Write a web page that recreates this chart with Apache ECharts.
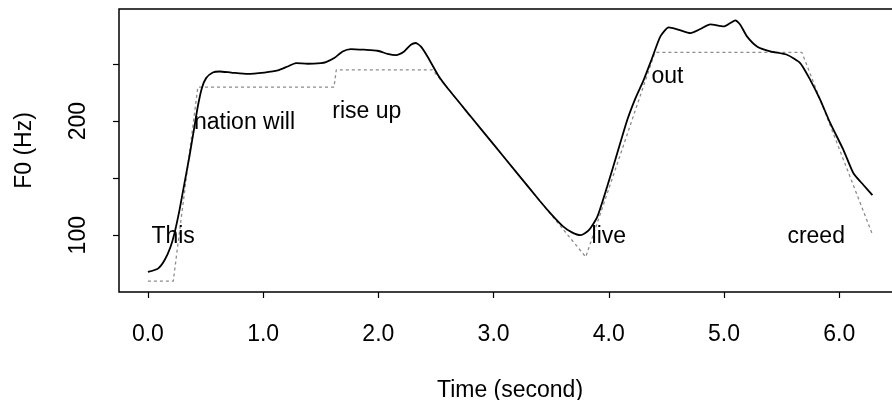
<!DOCTYPE html>
<html>
<head>
<meta charset="utf-8">
<script src="https://cdn.jsdelivr.net/npm/echarts@6/dist/echarts.min.js"></script>
<style>
  html, body { margin: 0; padding: 0; background: #fff; }
  #chart { width: 892px; height: 400px; }
</style>
</head>
<body>
<div id="chart"></div>
<script>
// F0 contour (solid)
var contourTime = [0.0, 0.087, 0.144, 0.196, 0.23, 0.274, 0.317, 0.36, 0.399, 0.433, 0.468, 0.505, 0.563, 0.62, 0.722, 0.866, 1.01, 1.127, 1.213, 1.285, 1.386, 1.502, 1.545, 1.617, 1.69, 1.762, 1.877, 1.993, 2.08, 2.152, 2.224, 2.282, 2.325, 2.368, 2.426, 2.52, 2.6, 2.8, 3.0, 3.2, 3.4, 3.5, 3.6, 3.68, 3.755, 3.827, 3.9, 3.986, 4.073, 4.16, 4.231, 4.303, 4.376, 4.448, 4.52, 4.607, 4.708, 4.795, 4.881, 4.997, 5.055, 5.098, 5.141, 5.199, 5.286, 5.401, 5.546, 5.661, 5.748, 5.835, 5.922, 6.036, 6.123, 6.21, 6.288];
var contourF0 = [67.8, 70.7, 78, 89.7, 101.5, 122, 145.5, 169, 192.4, 212.9, 228.9, 237.7, 242.6, 243.5, 242.6, 241.4, 242.6, 244.4, 247.9, 250.9, 250.3, 250.9, 251.8, 255.3, 261.1, 263.2, 262.6, 261.7, 259, 257.9, 261.1, 267, 268.5, 265.5, 256.7, 240, 229, 204.3, 179.6, 154.9, 130.2, 118.5, 108, 102.5, 100, 104.4, 116.1, 142.7, 171.8, 201, 220, 236.2, 255.3, 274.3, 282.2, 280.1, 277.2, 280.8, 284.8, 283, 286, 288.3, 284.5, 274.3, 265.5, 261.1, 258.2, 250.9, 236.2, 218.7, 198.2, 174.8, 154.3, 144, 135.1];

// stylized target (dotted grey)
var targetTime = [0.0, 0.22, 0.433, 1.615, 1.635, 2.47, 3.80, 4.40, 5.676, 6.288];
var targetF0 = [59.8, 59.8, 229.8, 229.8, 245, 245, 80.9, 260.2, 260.2, 100.6];

// word labels
var wordText = ['This', 'nation will', 'rise up', 'live', 'out', 'creed'];
var wordTime = [0.03, 0.40, 1.60, 3.85, 4.37, 5.55];
var wordF0 = [98.5, 198.8, 208.4, 98.5, 239.1, 98.5];

// ticks
var xTicks = [0, 1, 2, 3, 4, 5, 6];
var yTicks = [100, 150, 200, 250];
var yTickLabels = [100, 200];

var fontFam = "'Liberation Sans', Arial, sans-serif";

function zip(a, b) {
    return a.map(function (v, i) { return [v, b[i]]; });
}

var chartDom = document.getElementById('chart');
var myChart = echarts.init(chartDom);

var option = {
    animation: false,
    backgroundColor: '#fff',
    textStyle: { fontFamily: fontFam },
    grid: {
        left: 119, top: 9, right: -9, bottom: 108,
        show: true, borderColor: '#000', borderWidth: 1.5,
        outerBoundsMode: 'none'
    },
    xAxis: {
        type: 'value',
        min: -0.251, max: 6.536,
        axisLine: { show: false, onZero: false },
        splitLine: { show: false },
        axisTick: { show: true, length: 6, customValues: xTicks, lineStyle: { color: '#000', width: 1.2 } },
        axisLabel: {
            customValues: xTicks, margin: 31, fontSize: 23, color: '#000', fontFamily: fontFam,
            formatter: function (v) { return v.toFixed(1); }
        },
        name: 'Time (second)', nameLocation: 'middle', nameGap: 87,
        nameTextStyle: { fontSize: 23, color: '#000', fontFamily: fontFam }
    },
    yAxis: {
        type: 'value',
        min: 50.2, max: 298.3,
        axisLine: { show: false, onZero: false },
        splitLine: { show: false },
        axisTick: { show: true, length: 6, customValues: yTicks, lineStyle: { color: '#000', width: 1.2 } },
        axisLabel: {
            customValues: yTickLabels, rotate: 90, margin: 29, fontSize: 23, color: '#000', fontFamily: fontFam
        },
        name: 'F0 (Hz)', nameLocation: 'middle', nameRotate: 90, nameGap: 83,
        nameTextStyle: { fontSize: 23, color: '#000', fontFamily: fontFam }
    },
    series: [
        {
            type: 'line',
            data: zip(targetTime, targetF0),
            showSymbol: false,
            silent: true,
            lineStyle: { color: '#8c8c8c', width: 1.3, type: [3, 3] },
            z: 2
        },
        {
            type: 'line',
            data: zip(contourTime, contourF0),
            showSymbol: false,
            silent: true,
            smooth: 0.2,
            lineStyle: { color: '#000', width: 1.8 },
            z: 3
        },
        {
            type: 'scatter',
            symbolSize: 0,
            silent: true,
            itemStyle: { opacity: 1, color: '#000' },
            data: wordText.map(function (w, i) { return { name: w, value: [wordTime[i], wordF0[i]] }; }),
            label: {
                show: true, position: 'right', distance: 0,
                formatter: '{b}', fontSize: 23, color: '#000', fontFamily: fontFam
            },
            z: 4
        }
    ]
};

myChart.setOption(option);
</script>
</body>
</html>
